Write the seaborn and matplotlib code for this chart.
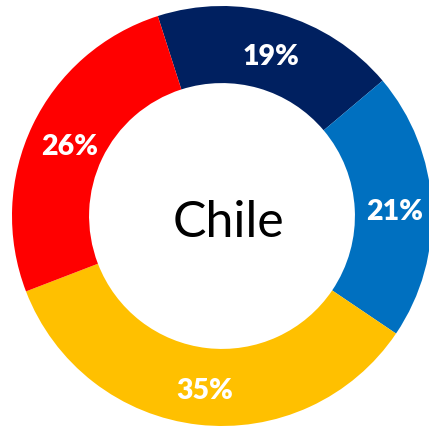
import matplotlib
matplotlib.use("Agg")
import matplotlib.pyplot as plt
import seaborn as sns

# Data
categories = ["Navy", "Blue", "Yellow", "Red"]
values = [18.8, 20.6, 34.7, 25.9]
colors = ["#002060", "#0070C0", "#FFC000", "#FF0000"]
center_label = "Chile"

sns.set_theme(style="white")
plt.rcParams["font.family"] = ["Lato", "DejaVu Sans"]

W, H = 429, 428
cx, cy, R = 222, 216, 210
fig = plt.figure(figsize=(W / 100, H / 100), dpi=100)
ax = fig.add_axes([0, 0, 1, 1])

wedges, texts, autotexts = ax.pie(
    values,
    colors=sns.color_palette(colors),
    startangle=107.8,
    counterclock=False,
    radius=1.0,
    wedgeprops=dict(width=0.367, edgecolor="none", linewidth=0, antialiased=True),
    autopct=lambda p: f"{p:.0f}%",
    pctdistance=0.815,
    textprops=dict(color="white", fontsize=20.5, fontweight="heavy"),
)
for t in autotexts:
    x, y = t.get_position()
    t.set_position((x + 2 / R, y - 5 / R))

ax.text(0.033, -0.01, center_label, ha="center", va="center_baseline",
        fontsize=36, color="black")

ax.set_aspect("auto")
ax.set_xlim(-cx / R, (W - cx) / R)
ax.set_ylim(-(H - cy) / R, cy / R)
ax.axis("off")

fig.savefig("out.png", dpi=100, facecolor="white")
